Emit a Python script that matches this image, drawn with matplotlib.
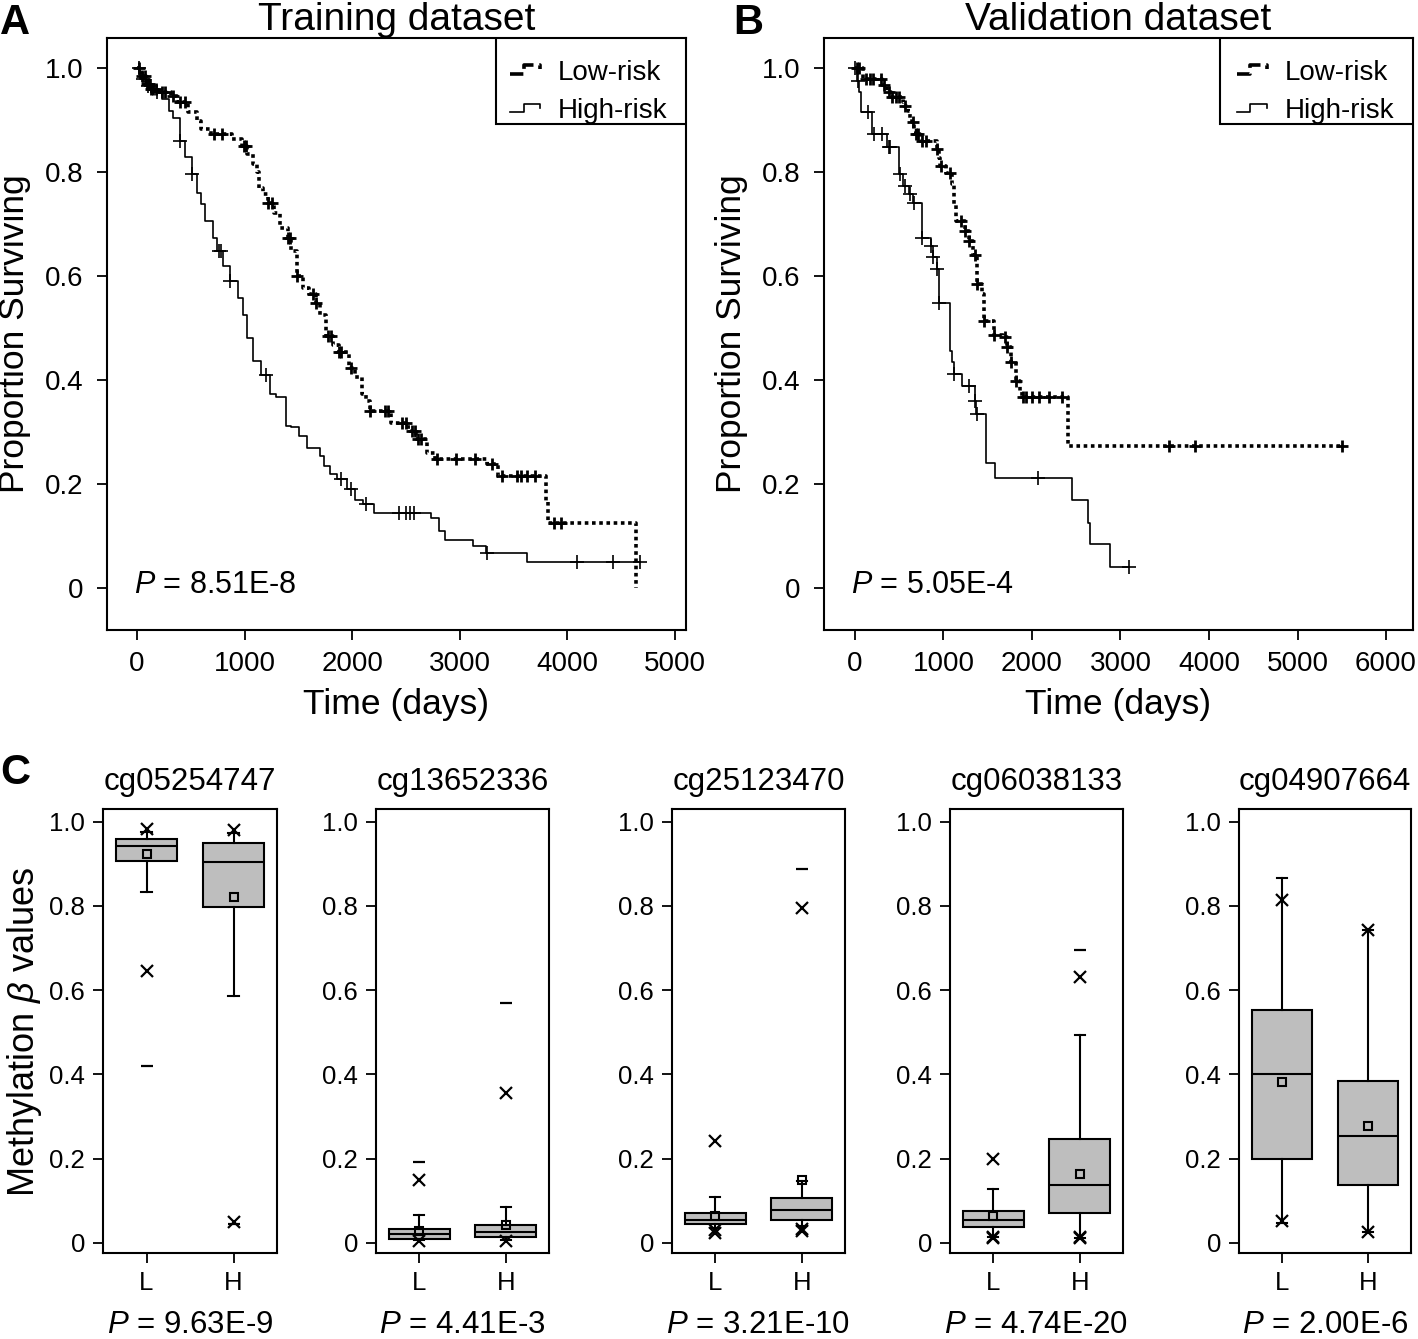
import numpy as np
import matplotlib
matplotlib.use('Agg')
import matplotlib.pyplot as plt
from matplotlib.lines import Line2D
from matplotlib.patches import Rectangle
from matplotlib.legend_handler import HandlerBase

plt.rcParams['font.family'] = ['Liberation Sans', 'DejaVu Sans']
plt.rcParams['mathtext.fontset'] = 'custom'
plt.rcParams['mathtext.rm'] = 'Liberation Sans'
plt.rcParams['mathtext.it'] = 'Liberation Sans:italic'

# ---- Kaplan-Meier data (event times in days, survival after each event, censor times)
train_low_t = [40, 80, 117, 200, 313, 367, 473, 562, 598, 687, 883, 972, 1025, 1078, 1114, 1131,
               1167, 1221, 1274, 1328, 1399, 1434, 1488, 1541, 1594, 1665, 1701, 1755, 1826, 1879,
               1968, 2022, 2093, 2128, 2164, 2360, 2502, 2538, 2591, 2697, 2769, 3249, 3356, 3801,
               3819, 4637]
train_low_s = [0.985, 0.97, 0.96, 0.955, 0.947, 0.934, 0.915, 0.899, 0.883, 0.873, 0.864, 0.851,
               0.835, 0.815, 0.80, 0.77, 0.758, 0.741, 0.722, 0.693, 0.674, 0.648, 0.60, 0.577,
               0.565, 0.549, 0.526, 0.485, 0.468, 0.453, 0.424, 0.405, 0.373, 0.36, 0.341, 0.318,
               0.309, 0.302, 0.286, 0.26, 0.248, 0.238, 0.215, 0.167, 0.125, 0.0]
train_low_c = [20, 50, 70, 90, 110, 130, 150, 180, 230, 260, 330, 400, 450, 720, 794, 990, 1010,
               1221, 1250, 1399, 1420, 1488, 1640, 1665, 1772, 1800, 1879, 1900, 1990, 2164, 2300,
               2330, 2460, 2500, 2560, 2580, 2610, 2640, 2787, 2965, 3143, 3303, 3390, 3530, 3570,
               3620, 3700, 3872, 3943]

train_high_t = [30, 80, 150, 230, 295, 330, 402, 450, 509, 560, 598, 633, 705, 740, 800, 865, 936,
                989, 1025, 1078, 1150, 1239, 1292, 1381, 1434, 1505, 1577, 1701, 1737, 1790, 1860,
                1950, 2022, 2100, 2199, 2733, 2805, 2858, 3125, 3240, 3623]
train_high_s = [0.98, 0.965, 0.955, 0.94, 0.918, 0.905, 0.86, 0.83, 0.796, 0.76, 0.738, 0.706,
                0.674, 0.648, 0.62, 0.59, 0.558, 0.526, 0.48, 0.436, 0.41, 0.373, 0.367, 0.312,
                0.309, 0.293, 0.27, 0.254, 0.235, 0.219, 0.209, 0.19, 0.170, 0.161, 0.145, 0.135,
                0.109, 0.093, 0.080, 0.0675, 0.050]
train_high_c = [20, 60, 100, 130, 190, 402, 509, 758, 780, 865, 1203, 1897, 1986, 2128, 2431, 2502,
                2540, 2573, 3249, 4086, 4424, 4673]

valid_low_t = [86, 300, 365, 408, 537, 558, 601, 623, 644, 665, 687, 730, 923, 945, 966, 1031, 1095,
               1117, 1138, 1245, 1288, 1331, 1374, 1439, 1460, 1568, 1675, 1718, 1761, 1825, 1868,
               1890, 2405]
valid_low_s = [0.979, 0.967, 0.954, 0.944, 0.934, 0.928, 0.918, 0.902, 0.896, 0.88, 0.873, 0.86,
               0.844, 0.828, 0.812, 0.799, 0.777, 0.738, 0.706, 0.687, 0.667, 0.641, 0.584, 0.565,
               0.513, 0.487, 0.482, 0.463, 0.434, 0.399, 0.379, 0.367, 0.273]
valid_low_c = [20, 40, 130, 170, 200, 290, 330, 380, 420, 460, 500, 560, 650, 690, 710, 760, 800,
               925, 970, 1074, 1203, 1245, 1290, 1353, 1374, 1460, 1568, 1700, 1718, 1761, 1825,
               1900, 1933, 1997, 2083, 2190, 2341, 3543, 3844, 5498]

valid_high_t = [21, 43, 64, 193, 365, 494, 540, 610, 660, 752, 859, 880, 923, 945, 1074, 1095, 1117,
                1211, 1353, 1370, 1475, 1585, 2448, 2630, 2650, 2878]
valid_high_s = [0.976, 0.954, 0.915, 0.873, 0.848, 0.796, 0.774, 0.758, 0.741, 0.674, 0.658, 0.636,
                0.613, 0.549, 0.455, 0.434, 0.412, 0.389, 0.36, 0.334, 0.241, 0.212, 0.169, 0.125,
                0.084, 0.041]
valid_high_c = [5, 30, 150, 220, 300, 380, 400, 510, 560, 625, 668, 755, 862, 885, 925, 948, 1120,
                1288, 1356, 1376, 2070, 3101]

km_titles = ['Training dataset', 'Validation dataset']
km_pvals = ['8.51E-8', '5.05E-4']

# ---- box plot data (methylation beta values)
genes = ['cg05254747', 'cg13652336', 'cg25123470', 'cg06038133', 'cg04907664']
box_pvals = ['9.63E-9', '4.41E-3', '3.21E-10', '4.74E-20', '2.00E-6']
groups = ['L', 'H']
q1 = [[0.907, 0.797], [0.010, 0.014], [0.046, 0.055], [0.038, 0.071], [0.200, 0.138]]
med = [[0.941, 0.904], [0.020, 0.025], [0.055, 0.077], [0.054, 0.137], [0.400, 0.253]]
q3 = [[0.958, 0.950], [0.034, 0.043], [0.071, 0.107], [0.075, 0.247], [0.552, 0.385]]
whis_lo = [[0.832, 0.587], [0.006, 0.006], [0.035, 0.040], [0.015, 0.012], [0.047, 0.025]]
whis_hi = [[0.975, 0.972], [0.067, 0.085], [0.108, 0.146], [0.129, 0.494], [0.866, 0.742]]
means = [[0.922, 0.822], [0.028, 0.043], [0.063, 0.150], [0.063, 0.164], [0.383, 0.277]]
pct_marks = [[[0.983, 0.646], [0.980, 0.049]],
             [[0.149, 0.004], [0.356, 0.004]],
             [[0.243, 0.024, 0.030], [0.796, 0.032, 0.028]],
             [[0.198, 0.012, 0.015], [0.631, 0.012, 0.015]],
             [[0.814, 0.051], [0.742, 0.025]]]
extremes = [[[0.421], [0.045]],
            [[0.192], [0.569]],
            [[], [0.887]],
            [[], [0.695]],
            [[], []]]

W, H = 1418, 1339
fig = plt.figure(figsize=(W / 100, H / 100), dpi=100)


def px_axes(l, t, r, b):
    return fig.add_axes([l / W, 1 - b / H, (r - l) / W, (b - t) / H])


class StepHandler(HandlerBase):
    # small step-shaped legend key, like the original survival plot
    def create_artists(self, legend, orig, xd, yd, width, height, fontsize, trans):
        xs = np.array([0, 0.4, 0.4, 0.9, 0.9]) * width - xd
        ys = np.array([0.3, 0.3, 0.75, 0.75, 0.55]) * height - yd
        ln = Line2D(xs, ys, color='black', lw=orig.get_linewidth(), ls=orig.get_linestyle(),
                    dash_capstyle='butt')
        ln.set_transform(trans)
        return [ln]


def km_curve(ax, times, surv, cens, **kw):
    end = max(times[-1], cens[-1])
    x = np.concatenate([[0], times, [end]])
    y = np.concatenate([[1.0], surv, [surv[-1]]])
    line, = ax.step(x, y, where='post', color='black', **kw)
    idx = np.searchsorted(x, cens, side='right') - 1
    return line, x, y, idx


def km_panel(ax, low, high, title, pval):
    lo_line, x, y, idx = km_curve(ax, *low, lw=2.6, ls=(0, (1, 1)), dash_capstyle='butt',
                                  label='Low-risk')
    ax.plot(np.array(low[2]), y[idx], ls='none', marker='+', ms=9, mew=2.0, color='black')
    hi_line, x, y, idx = km_curve(ax, *high, lw=1.2, label='High-risk')
    ax.plot(np.array(high[2]), y[idx], ls='none', marker='+', ms=10, mew=1.2, color='black')
    ax.set_ylim(-0.081, 1.058)
    ax.set_yticks([0, 0.2, 0.4, 0.6, 0.8, 1.0])
    ax.set_yticklabels(['0', '0.2', '0.4', '0.6', '0.8', '1.0'])
    ax.tick_params(direction='out', length=7, width=1.3, labelsize=20)
    ax.tick_params(axis='y', pad=10)
    ax.tick_params(axis='x', pad=8)
    for s in ax.spines.values():
        s.set_linewidth(1.5)
    ax.set_title(title, fontsize=28, pad=6)
    ax.set_xlabel('Time (days)', fontsize=25.5, labelpad=8)
    ax.set_ylabel('Proportion Surviving', fontsize=25.5, labelpad=10)
    ax.text(0.046, 0.076, '$P$ = ' + pval, transform=ax.transAxes, fontsize=22, va='center')
    # legend box hugging the top right corner, entries sitting low in it
    box_l = 1 - 190 / 579
    box_b = 1 - 86 / 592
    ax.add_patch(Rectangle((box_l, box_b), 1 - box_l, 1 - box_b, transform=ax.transAxes,
                           facecolor='white', edgecolor='black', lw=1.5, zorder=5))
    leg = ax.legend(handles=[lo_line, hi_line], loc='lower right',
                    bbox_to_anchor=(1 - 16 / 579, box_b - 3 / 592), frameon=False,
                    borderaxespad=0, fontsize=20, handler_map={Line2D: StepHandler()},
                    handlelength=1.2, handletextpad=0.5, borderpad=0.1, labelspacing=0.45)
    leg.set_zorder(6)


axA = px_axes(107, 38, 686, 630)
km_panel(axA, (train_low_t, train_low_s, train_low_c), (train_high_t, train_high_s, train_high_c),
         km_titles[0], km_pvals[0])
axA.set_xlim(-279, 5102)
axA.set_xticks([0, 1000, 2000, 3000, 4000, 5000])

axB = px_axes(824, 38, 1413, 630)
km_panel(axB, (valid_low_t, valid_low_s, valid_low_c), (valid_high_t, valid_high_s, valid_high_c),
         km_titles[1], km_pvals[1])
axB.set_xlim(-350, 6305)
axB.set_xticks([0, 1000, 2000, 3000, 4000, 5000, 6000])

# ---- box plots
box_x = [(103, 277), (376, 549), (672, 845), (950, 1123), (1239, 1411)]
for i, g in enumerate(genes):
    ax = px_axes(box_x[i][0], 809, box_x[i][1], 1253)
    stats = []
    for j in range(2):
        stats.append(dict(med=med[i][j], q1=q1[i][j], q3=q3[i][j], whislo=whis_lo[i][j],
                          whishi=whis_hi[i][j], mean=means[i][j], fliers=[], label=groups[j]))
    ax.bxp(stats, positions=[1, 2], widths=0.7, showmeans=True, patch_artist=True,
           capwidths=0.12,
           boxprops=dict(facecolor='#bebebe', edgecolor='black', linewidth=1.5),
           medianprops=dict(color='black', linewidth=1.5),
           whiskerprops=dict(color='black', linewidth=1.5),
           capprops=dict(color='black', linewidth=1.5),
           meanprops=dict(marker='s', markersize=6, markerfacecolor='none',
                          markeredgecolor='black', markeredgewidth=1.5))
    for j in range(2):
        ax.plot([j + 1] * len(pct_marks[i][j]), pct_marks[i][j], ls='none', marker='x',
                ms=8, mew=1.6, color='black')
        ax.plot([j + 1] * len(extremes[i][j]), extremes[i][j], ls='none', marker='_',
                ms=9, mew=1.6, color='black')
    ax.set_xlim(0.5, 2.5)
    ax.set_ylim(-0.024, 1.030)
    ax.set_yticks([0, 0.2, 0.4, 0.6, 0.8, 1.0])
    ax.set_yticklabels(['0', '0.2', '0.4', '0.6', '0.8', '1.0'])
    ax.tick_params(direction='out', length=7, width=1.3, labelsize=18.5, pad=6)
    for s in ax.spines.values():
        s.set_linewidth(1.5)
    ax.set_title(g, fontsize=22.5, pad=14)
    ax.text(0.5, -0.162, '$P$ = ' + box_pvals[i], transform=ax.transAxes, fontsize=22.5,
            ha='center', va='center')

fig.text(25 / W, 1 - 1032 / H, r'Methylation $\beta$ values', rotation=90, fontsize=26,
         ha='center', va='center')

fig.text(0 / W, 1 - 3 / H, 'A', fontsize=30, fontweight='bold', va='top', ha='left')
fig.text(733 / W, 1 - 3 / H, 'B', fontsize=30, fontweight='bold', va='top', ha='left')
fig.text(0 / W, 1 - 753 / H, 'C', fontsize=30, fontweight='bold', va='top', ha='left')

fig.savefig('out.png', dpi=100)
